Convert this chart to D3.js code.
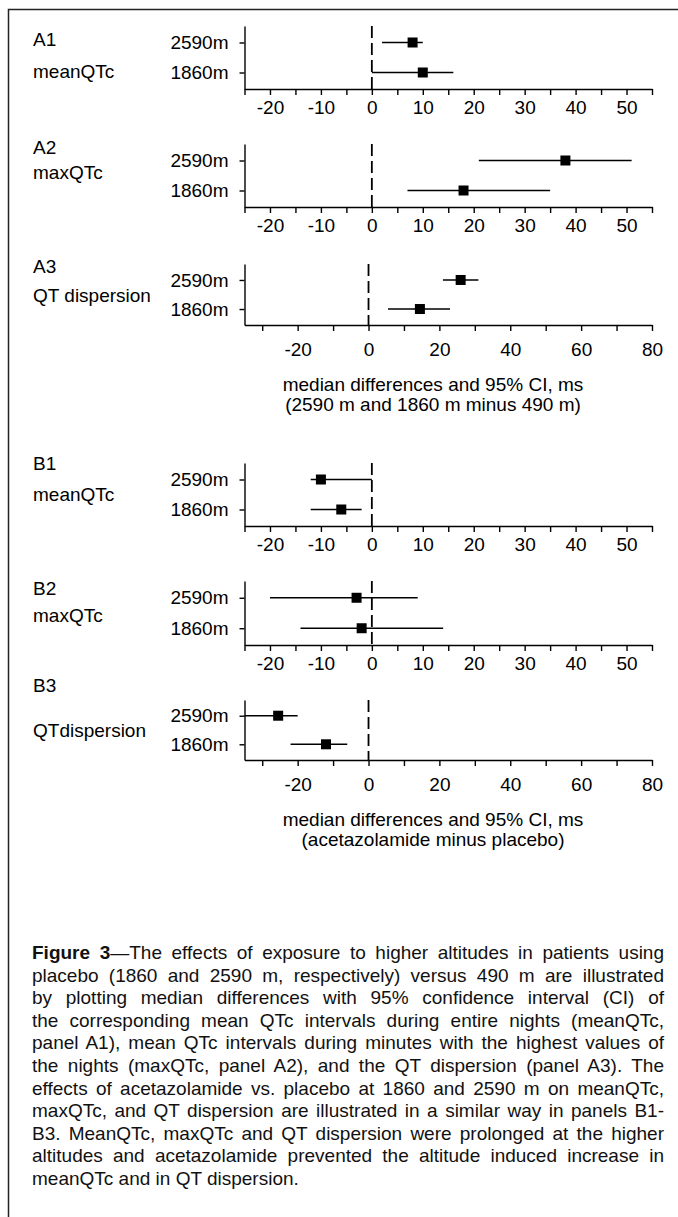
<!DOCTYPE html>
<html>
<head>
<meta charset="utf-8">
<script src="https://cdn.jsdelivr.net/npm/d3@7"></script>
<style>
  body { margin: 0; background: #fff; }
  svg { display: block; }
</style>
</head>
<body>
<svg id="fig"></svg>
<script>
// data
var rows = ["2590m", "1860m"];
var panel_ids = ["A1", "A2", "A3", "B1", "B2", "B3"];
var panel_names = ["meanQTc", "maxQTc", "QT dispersion", "meanQTc", "maxQTc", "QTdispersion"];
var medians = [[8, 10], [38, 18], [26, 14.5], [-10, -6], [-3, -2], [-25.5, -12]];
var ci_low  = [[2, 0], [21, 7], [21, 5.5], [-12, -12], [-20, -14], [-35, -22]];
var ci_high = [[10, 16], [51, 35], [31, 23], [0, -2], [9, 14], [-20, -6]];
var qtc_domain = [-25, 55];
var qtc_ticks = [-25, -20, -15, -10, -5, 0, 5, 10, 15, 20, 25, 30, 35, 40, 45, 50, 55];
var qtc_labels = [-20, -10, 0, 10, 20, 30, 40, 50];
var disp_domain = [-35, 80];
var disp_ticks = [-30, -20, -10, 0, 10, 20, 30, 40, 50, 60, 70, 80];
var disp_labels = [-20, 0, 20, 40, 60, 80];
var axis_title_a = ["median differences and 95% CI, ms", "(2590 m and 1860 m minus 490 m)"];
var axis_title_b = ["median differences and 95% CI, ms", "(acetazolamide minus placebo)"];
var caption_lines = [
  "placebo (1860 and 2590 m, respectively) versus 490 m are illustrated",
  "by plotting median differences with 95% confidence interval (CI) of",
  "the corresponding mean QTc intervals during entire nights (meanQTc,",
  "panel A1), mean QTc intervals during minutes with the highest values of",
  "the nights (maxQTc, panel A2), and the QT dispersion (panel A3). The",
  "effects of acetazolamide vs. placebo at 1860 and 2590 m on meanQTc,",
  "maxQTc, and QT dispersion are illustrated in a similar way in panels B1-",
  "B3. MeanQTc, maxQTc and QT dispersion were prolonged at the higher",
  "altitudes and acetazolamide prevented the altitude induced increase in",
  "meanQTc and in QT dispersion."
];
var caption_bold = "Figure 3";
var caption_first = "\u2014The effects of exposure to higher altitudes in patients using";

// layout
var width = 678, height = 1217;
var plot_left = 244.5, plot_right = 652;
var axis_y = [89, 207, 325, 526, 645, 760];
var top_y = [26, 144, 264, 463, 581, 700];
var id_y = [39, 147, 266, 463, 588, 685];
var name_y = [71, 172, 295, 494, 615, 730];
var label_x = 33;
var font = "Arial, 'Liberation Sans', sans-serif";
var font_size = 19;

var svg = d3.select("#fig")
    .attr("width", width)
    .attr("height", height)
    .attr("font-family", font);

svg.append("rect")
    .attr("width", width)
    .attr("height", height)
    .attr("fill", "#fff");

// frame (top and left edge only, the rest is cropped)
svg.append("path")
    .attr("d", "M8.5," + height + "V9.5H" + width)
    .attr("fill", "none")
    .attr("stroke", "#222")
    .attr("stroke-width", 1.5);

function draw_panel(p) {
    var is_disp = (p % 3 == 2);
    var x = d3.scaleLinear()
        .domain(is_disp ? disp_domain : qtc_domain)
        .range([plot_left, plot_right]);
    var y = d3.scalePoint()
        .domain(rows)
        .range([top_y[p], axis_y[p]])
        .padding(0.55);
    var labels = is_disp ? disp_labels : qtc_labels;

    var g = svg.append("g").attr("class", "panel");

    var x_axis = d3.axisBottom(x)
        .tickValues(is_disp ? disp_ticks : qtc_ticks)
        .tickSize(6)
        .tickSizeOuter(0)
        .tickPadding(is_disp ? 12 : 6)
        .tickFormat(d => labels.indexOf(d) >= 0 ? d : "");

    var y_axis = d3.axisLeft(y)
        .tickSize(5)
        .tickSizeOuter(0)
        .tickPadding(11);

    var xa = g.append("g")
        .attr("transform", "translate(0," + axis_y[p] + ")")
        .call(x_axis);
    var ya = g.append("g")
        .attr("transform", "translate(" + plot_left + ",0)")
        .call(y_axis);

    [xa, ya].forEach(a => {
        a.selectAll("path, line").attr("stroke", "#000").attr("stroke-width", 1.4);
        a.selectAll("text")
            .attr("fill", "#000")
            .attr("font-size", font_size)
            .attr("font-family", font);
    });
    // hyphen minus like the original
    xa.selectAll("text").text(d => labels.indexOf(d) >= 0 ? String(d) : "");

    // zero line
    g.append("line")
        .attr("x1", x(0)).attr("x2", x(0))
        .attr("y1", top_y[p]).attr("y2", axis_y[p])
        .attr("stroke", "#000")
        .attr("stroke-width", 1.8)
        .attr("stroke-dasharray", "12,5");

    var pts = rows.map((r, i) => ({
        row: r, med: medians[p][i], lo: ci_low[p][i], hi: ci_high[p][i]
    }));

    g.selectAll(".ci")
        .data(pts)
        .enter()
        .append("line")
        .attr("class", "ci")
        .attr("x1", d => x(Math.max(d.lo, x.domain()[0])))
        .attr("x2", d => x(Math.min(d.hi, x.domain()[1])))
        .attr("y1", d => y(d.row))
        .attr("y2", d => y(d.row))
        .attr("stroke", "#000")
        .attr("stroke-width", 1.5);

    g.selectAll(".med")
        .data(pts)
        .enter()
        .append("rect")
        .attr("class", "med")
        .attr("x", d => x(d.med) - 5)
        .attr("y", d => y(d.row) - 5)
        .attr("width", 10)
        .attr("height", 10)
        .attr("fill", "#000");

    g.append("text")
        .attr("x", label_x)
        .attr("y", id_y[p])
        .attr("dy", "0.35em")
        .attr("font-size", font_size)
        .text(panel_ids[p]);
    g.append("text")
        .attr("x", label_x)
        .attr("y", name_y[p])
        .attr("dy", "0.35em")
        .attr("font-size", font_size)
        .text(panel_names[p]);

    if (is_disp) {
        var title = p < 3 ? axis_title_a : axis_title_b;
        g.selectAll(".axis-title")
            .data(title)
            .enter()
            .append("text")
            .attr("class", "axis-title")
            .attr("x", 433)
            .attr("y", (d, i) => axis_y[p] + 66 + i * 20)
            .attr("text-anchor", "middle")
            .attr("font-size", font_size)
            .text(d => d);
    }
}

for (var p = 0; p < panel_ids.length; p++) draw_panel(p);

// caption, justified line by line
var cap_left = 32, cap_right = 664, cap_y = 959, cap_step = 22.6, cap_size = 19;
var cap = svg.append("g")
    .attr("font-size", cap_size)
    .attr("fill", "#111");

var first = cap.append("text")
    .attr("x", cap_left)
    .attr("y", cap_y);
first.append("tspan").attr("font-weight", "bold").text(caption_bold);
first.append("tspan").text(caption_first);

var lines = [first];
caption_lines.forEach((t, i) => {
    lines.push(cap.append("text")
        .attr("x", cap_left)
        .attr("y", cap_y + (i + 1) * cap_step)
        .text(t));
});

lines.forEach((t, i) => {
    if (i == lines.length - 1) return;
    var full = t.text();
    var spaces = full.split(" ").length - 1;
    var w = t.node().getComputedTextLength();
    var extra = (cap_right - cap_left - w) / spaces;
    t.style("word-spacing", extra + "px");
});
</script>
</body>
</html>
